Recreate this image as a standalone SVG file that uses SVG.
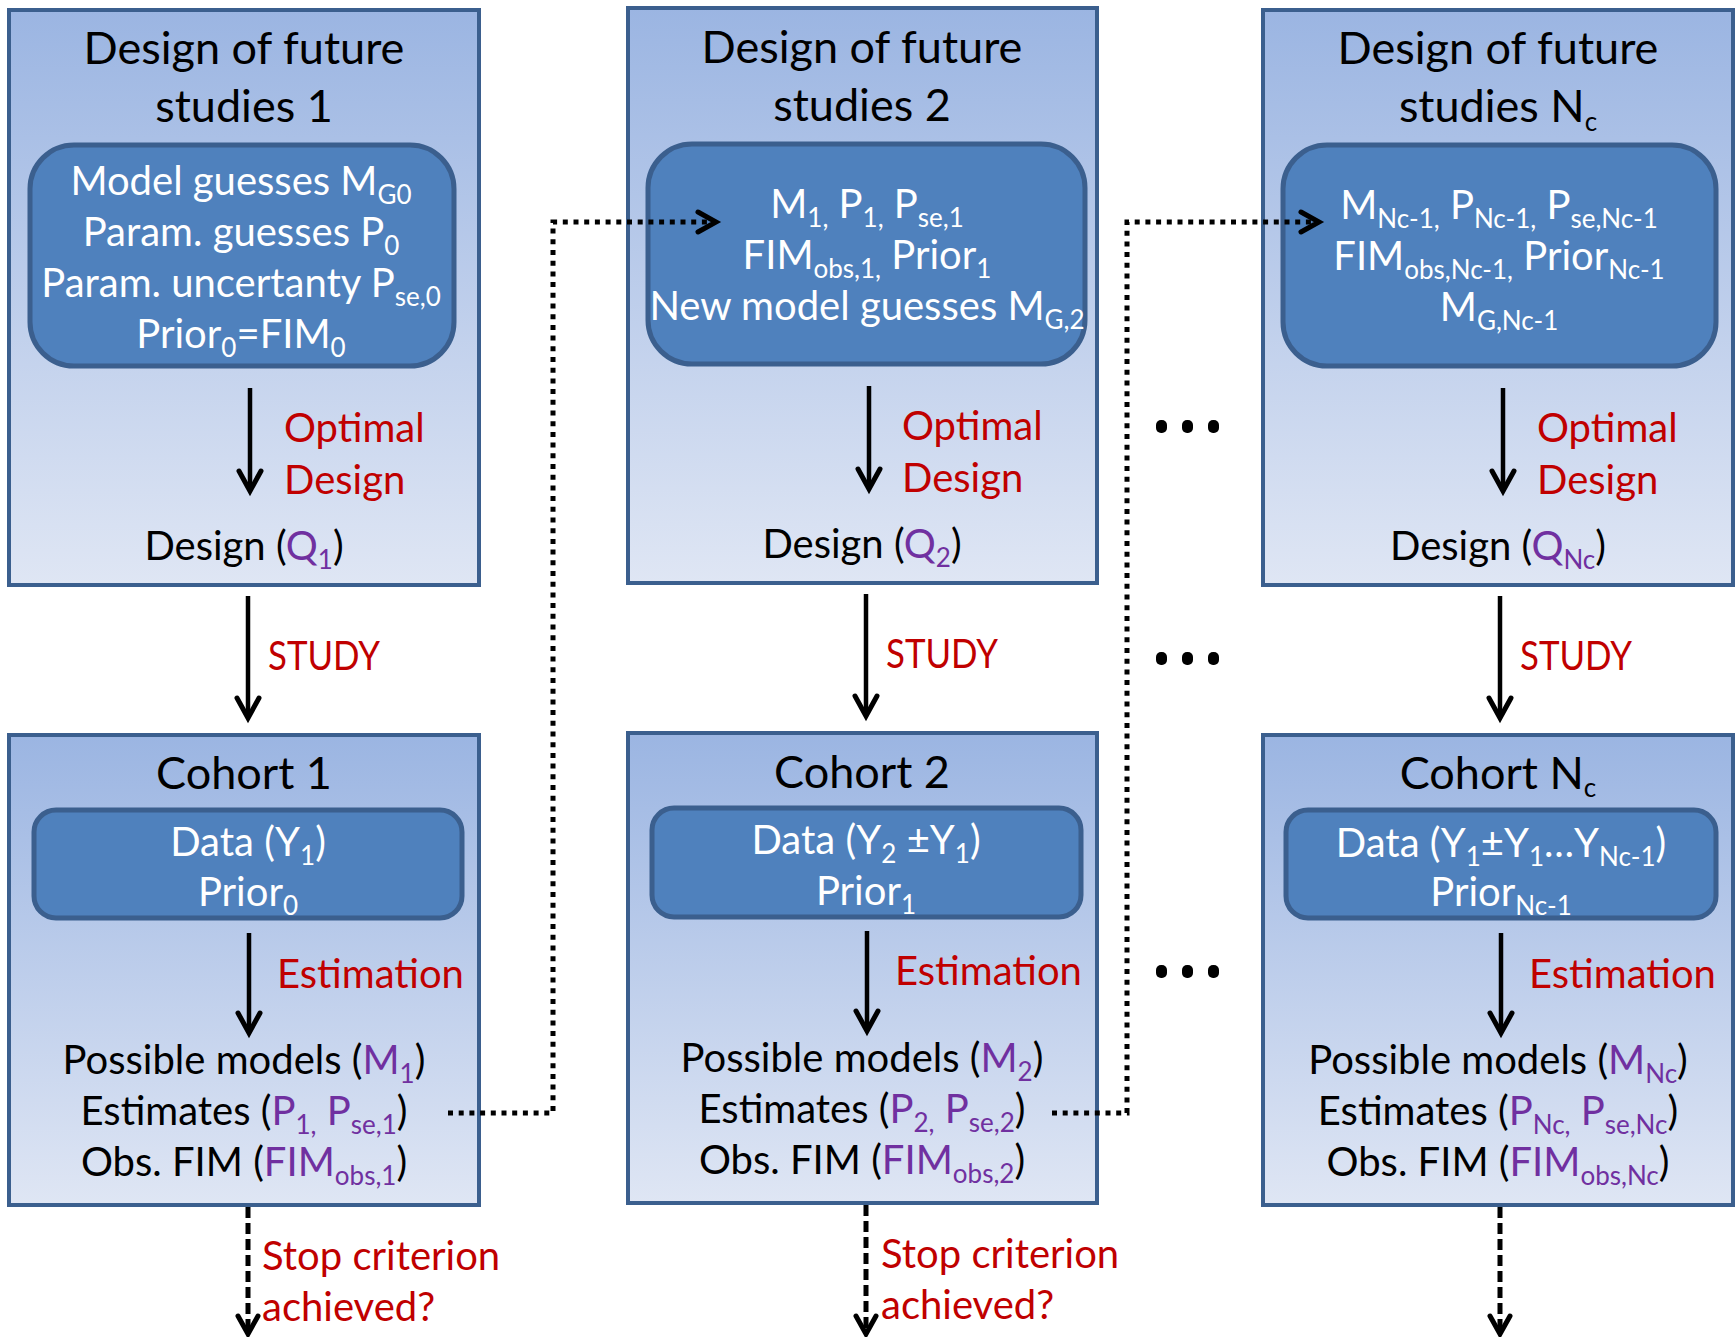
<svg xmlns="http://www.w3.org/2000/svg" width="1736" height="1337" viewBox="0 0 1736 1337">
<defs>
<linearGradient id="bg" x1="0" y1="0" x2="0" y2="1">
<stop offset="0" stop-color="#9bb5e2"/>
<stop offset="1" stop-color="#dfe6f4"/>
</linearGradient>
<marker id="ah" markerUnits="userSpaceOnUse" markerWidth="40" markerHeight="40" viewBox="-30 -20 40 40" refX="0" refY="0" orient="auto">
<path d="M-20,-11 L0,0 L-20,11" fill="none" stroke="#000" stroke-width="5" stroke-linecap="round" stroke-linejoin="miter"/>
</marker>
<marker id="ah2" markerUnits="userSpaceOnUse" markerWidth="40" markerHeight="40" viewBox="-30 -20 40 40" refX="0" refY="0" orient="auto">
<path d="M-18,-10 L0,0 L-18,10" fill="none" stroke="#000" stroke-width="5" stroke-linecap="round" stroke-linejoin="miter"/>
</marker>
</defs>
<style>
.box{fill:url(#bg);stroke:#3b5f8e;stroke-width:4}
.inner{fill:#4f81bd;stroke:#3b5f8e;stroke-width:5}
text{font-family:Lato,"Liberation Sans",sans-serif}
.c{text-anchor:middle}
.ti{font-size:45px;fill:#000}
.w{font-size:40px;fill:#fff}
.b{font-size:40px;fill:#000}
.r{font-size:40px;fill:#c00000}
.p{fill:#7030a0}
.s{font-size:26px}
.arr{stroke:#000;stroke-width:4.5;fill:none;marker-end:url(#ah)}
.dash{stroke:#000;stroke-width:5;fill:none;stroke-dasharray:11 5;marker-end:url(#ah2)}
.dot{stroke:#000;stroke-width:5;fill:none;stroke-dasharray:5 5.7;marker-end:url(#ah2)}
</style>

<g id="design1">
<rect class="box" x="9" y="10" width="470" height="575"/>
<text class="c ti" x="244" y="64">Design of future</text>
<text class="c ti" x="244" y="122">studies 1</text>
<rect class="inner" x="30" y="145" width="424" height="221" rx="44"/>
<text class="c w" x="241" y="195">Model guesses M<tspan class="s" dy="9">G0</tspan></text>
<text class="c w" x="241" y="246">Param. guesses P<tspan class="s" dy="9">0</tspan></text>
<text class="c w" x="241" y="297">Param. uncertanty P<tspan class="s" dy="9">se,0</tspan></text>
<text class="c w" x="241" y="348">Prior<tspan class="s" dy="9">0</tspan><tspan dy="-9">=FIM</tspan><tspan class="s" dy="9">0</tspan></text>
<text class="r" x="284" y="442">Optimal</text>
<text class="r" x="284" y="494">Design</text>
<text class="c b" x="244" y="560">Design (<tspan class="p">Q</tspan><tspan class="p s" dy="9">1</tspan><tspan dy="-9">)</tspan></text>
</g>

<g id="design2">
<rect class="box" x="628" y="8" width="469" height="575"/>
<text class="c ti" x="862" y="63">Design of future</text>
<text class="c ti" x="862" y="121">studies 2</text>
<rect class="inner" x="648" y="144" width="437" height="220" rx="44"/>
<text class="c w" x="867" y="218">M<tspan class="s" dy="9">1,</tspan><tspan dy="-9"> P</tspan><tspan class="s" dy="9">1,</tspan><tspan dy="-9"> P</tspan><tspan class="s" dy="9">se,1</tspan></text>
<text class="c w" x="867" y="269">FIM<tspan class="s" dy="9">obs,1,</tspan><tspan dy="-9"> Prior</tspan><tspan class="s" dy="9">1</tspan></text>
<text class="c w" x="867" y="320">New model guesses M<tspan class="s" dy="9">G,2</tspan></text>
<text class="r" x="902" y="440">Optimal</text>
<text class="r" x="902" y="492">Design</text>
<text class="c b" x="862" y="558">Design (<tspan class="p">Q</tspan><tspan class="p s" dy="9">2</tspan><tspan dy="-9">)</tspan></text>
</g>

<g id="design3">
<rect class="box" x="1263" y="10" width="470" height="575"/>
<text class="c ti" x="1498" y="64">Design of future</text>
<text class="c ti" x="1498" y="122">studies N<tspan class="s" dy="9">c</tspan></text>
<rect class="inner" x="1283" y="145" width="433" height="221" rx="44"/>
<text class="c w" x="1499" y="219">M<tspan class="s" dy="9">Nc-1,</tspan><tspan dy="-9"> P</tspan><tspan class="s" dy="9">Nc-1,</tspan><tspan dy="-9"> P</tspan><tspan class="s" dy="9">se,Nc-1</tspan></text>
<text class="c w" x="1499" y="270">FIM<tspan class="s" dy="9">obs,Nc-1,</tspan><tspan dy="-9"> Prior</tspan><tspan class="s" dy="9">Nc-1</tspan></text>
<text class="c w" x="1499" y="321">M<tspan class="s" dy="9">G,Nc-1</tspan></text>
<text class="r" x="1537" y="442">Optimal</text>
<text class="r" x="1537" y="494">Design</text>
<text class="c b" x="1498" y="560">Design (<tspan class="p">Q</tspan><tspan class="p s" dy="9">Nc</tspan><tspan dy="-9">)</tspan></text>
</g>

<g id="cohort1">
<rect class="box" x="9" y="735" width="470" height="470"/>
<text class="c ti" x="244" y="789">Cohort 1</text>
<rect class="inner" x="34" y="810" width="428" height="108" rx="22"/>
<text class="c w" x="248" y="856">Data (Y<tspan class="s" dy="9">1</tspan><tspan dy="-9">)</tspan></text>
<text class="c w" x="248" y="906">Prior<tspan class="s" dy="9">0</tspan></text>
<text class="r" x="277" y="988">Estimation</text>
<text class="c b" x="244" y="1074">Possible models (<tspan class="p">M</tspan><tspan class="p s" dy="9">1</tspan><tspan dy="-9">)</tspan></text>
<text class="c b" x="244" y="1125">Estimates (<tspan class="p">P</tspan><tspan class="p s" dy="9">1,</tspan><tspan class="p" dy="-9"> P</tspan><tspan class="p s" dy="9">se,1</tspan><tspan dy="-9">)</tspan></text>
<text class="c b" x="244" y="1176">Obs. FIM (<tspan class="p">FIM</tspan><tspan class="p s" dy="9">obs,1</tspan><tspan dy="-9">)</tspan></text>
</g>

<g id="cohort2">
<rect class="box" x="628" y="733" width="469" height="470"/>
<text class="c ti" x="862" y="788">Cohort 2</text>
<rect class="inner" x="652" y="808" width="429" height="109" rx="22"/>
<text class="c w" x="866" y="854">Data (Y<tspan class="s" dy="9">2</tspan><tspan dy="-9"> ±Y</tspan><tspan class="s" dy="9">1</tspan><tspan dy="-9">)</tspan></text>
<text class="c w" x="866" y="905">Prior<tspan class="s" dy="9">1</tspan></text>
<text class="r" x="895" y="985">Estimation</text>
<text class="c b" x="862" y="1072">Possible models (<tspan class="p">M</tspan><tspan class="p s" dy="9">2</tspan><tspan dy="-9">)</tspan></text>
<text class="c b" x="862" y="1123">Estimates (<tspan class="p">P</tspan><tspan class="p s" dy="9">2,</tspan><tspan class="p" dy="-9"> P</tspan><tspan class="p s" dy="9">se,2</tspan><tspan dy="-9">)</tspan></text>
<text class="c b" x="862" y="1174">Obs. FIM (<tspan class="p">FIM</tspan><tspan class="p s" dy="9">obs,2</tspan><tspan dy="-9">)</tspan></text>
</g>

<g id="cohort3">
<rect class="box" x="1263" y="735" width="470" height="470"/>
<text class="c ti" x="1498" y="789">Cohort N<tspan class="s" dy="8">c</tspan></text>
<rect class="inner" x="1286" y="810" width="430" height="108" rx="22"/>
<text class="c w" x="1501" y="857">Data (Y<tspan class="s" dy="9">1</tspan><tspan dy="-9">±Y</tspan><tspan class="s" dy="9">1</tspan><tspan dy="-9">…Y</tspan><tspan class="s" dy="9">Nc-1</tspan><tspan dy="-9">)</tspan></text>
<text class="c w" x="1501" y="906">Prior<tspan class="s" dy="9">Nc-1</tspan></text>
<text class="r" x="1529" y="988">Estimation</text>
<text class="c b" x="1498" y="1074">Possible models (<tspan class="p">M</tspan><tspan class="p s" dy="9">Nc</tspan><tspan dy="-9">)</tspan></text>
<text class="c b" x="1498" y="1125">Estimates (<tspan class="p">P</tspan><tspan class="p s" dy="9">Nc,</tspan><tspan class="p" dy="-9"> P</tspan><tspan class="p s" dy="9">se,Nc</tspan><tspan dy="-9">)</tspan></text>
<text class="c b" x="1498" y="1176">Obs. FIM (<tspan class="p">FIM</tspan><tspan class="p s" dy="9">obs,Nc</tspan><tspan dy="-9">)</tspan></text>
</g>

<g id="connectors">
<line class="arr" x1="250" y1="388" x2="250" y2="491"/>
<line class="arr" x1="869" y1="386" x2="869" y2="489"/>
<line class="arr" x1="1503" y1="388" x2="1503" y2="491"/>
<line class="arr" x1="248" y1="596" x2="248" y2="718"/>
<line class="arr" x1="866" y1="594" x2="866" y2="716"/>
<line class="arr" x1="1500" y1="596" x2="1500" y2="718"/>
<line class="arr" x1="249" y1="933" x2="249" y2="1033"/>
<line class="arr" x1="867" y1="931" x2="867" y2="1031"/>
<line class="arr" x1="1501" y1="933" x2="1501" y2="1033"/>
<line class="dash" x1="248" y1="1207" x2="248" y2="1334"/>
<line class="dash" x1="866" y1="1205" x2="866" y2="1334"/>
<line class="dash" x1="1500" y1="1207" x2="1500" y2="1334"/>
<path class="dot" d="M448,1113 H553 V222 H716"/>
<path class="dot" d="M1052,1113 H1127 V222 H1319"/>
<text class="r" x="262" y="1270">Stop criterion</text>
<text class="r" x="262" y="1321">achieved?</text>
<text class="r" x="881" y="1268">Stop criterion</text>
<text class="r" x="881" y="1319">achieved?</text>
<text class="r" x="268" y="670" textLength="112" lengthAdjust="spacingAndGlyphs">STUDY</text>
<text class="r" x="886" y="668" textLength="112" lengthAdjust="spacingAndGlyphs">STUDY</text>
<text class="r" x="1520" y="670" textLength="112" lengthAdjust="spacingAndGlyphs">STUDY</text>
<g fill="#000">
<rect x="1156" y="420" width="11" height="13" rx="5"/><rect x="1182" y="420" width="11" height="13" rx="5"/><rect x="1208" y="420" width="11" height="13" rx="5"/>
<rect x="1156" y="652" width="11" height="13" rx="5"/><rect x="1182" y="652" width="11" height="13" rx="5"/><rect x="1208" y="652" width="11" height="13" rx="5"/>
<rect x="1156" y="965" width="11" height="13" rx="5"/><rect x="1182" y="965" width="11" height="13" rx="5"/><rect x="1208" y="965" width="11" height="13" rx="5"/>
</g>
</g>
</svg>
